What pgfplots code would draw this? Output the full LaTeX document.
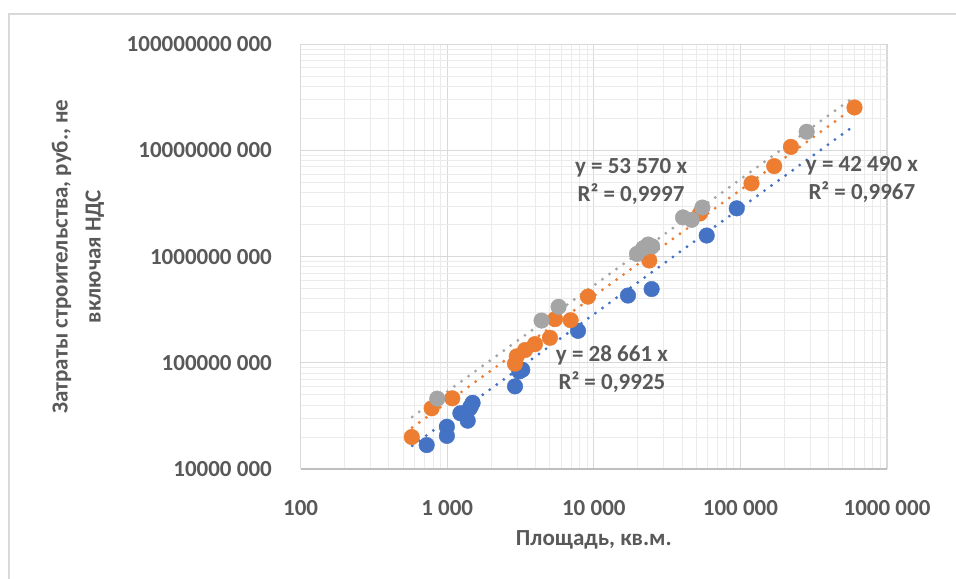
\documentclass[border=0pt]{standalone}
\usepackage{pgfplots}
\pgfplotsset{compat=1.18}
\usepackage{fontspec}
\setmainfont{Carlito}
\definecolor{cblue}{HTML}{4472C4}
\definecolor{corange}{HTML}{ED7D31}
\definecolor{cgray}{HTML}{A5A5A5}
\definecolor{ctext}{HTML}{595959}
\definecolor{gmaj}{HTML}{D9D9D9}
\definecolor{gmin}{HTML}{EBEBEB}
\begin{document}
\begin{tikzpicture}[x=1bp,y=1bp]
\useasboundingbox (0,0) rectangle (956,579);
\fill[white] (0,0) rectangle (956,579);
\draw[gmaj, line width=1.3bp] (9,-5) -- (9,565) -- (960,565);
\begin{axis}[
  at={(300.6bp,110bp)}, anchor=south west, scale only axis,
  width=586.4bp, height=424.7bp,
  xmode=log, ymode=log,
  xmin=100, xmax=1000000, ymin=1e7, ymax=1e11,
  xtick={100,1000,10000,100000,1000000},
  xticklabels={100,1 000,10 000,100 000,1000 000},
  ytick={1e7,1e8,1e9,1e10,1e11},
  yticklabels={10000 000,100000 000,1000000 000,10000000 000,100000000 000},
  minor xtick={200,300,400,500,600,700,800,900,2000,3000,4000,5000,6000,7000,8000,9000,20000,30000,40000,50000,60000,70000,80000,90000,200000,300000,400000,500000,600000,700000,800000,900000},
  minor ytick={2e7,3e7,4e7,5e7,6e7,7e7,8e7,9e7,2e8,3e8,4e8,5e8,6e8,7e8,8e8,9e8,2e9,3e9,4e9,5e9,6e9,7e9,8e9,9e9,2e10,3e10,4e10,5e10,6e10,7e10,8e10,9e10},
  grid=both,
  major grid style={draw=gmaj, line width=1.1bp},
  minor grid style={draw=gmin, line width=0.9bp},
  tick style={draw=none},
  axis line style={draw=none},
  ticklabel style={font=\fontsize{23bp}{28bp}\selectfont\bfseries, text=ctext, inner sep=0pt},
  xticklabel style={anchor=center, yshift=-39bp},
  yticklabel style={anchor=east, xshift=-28.6bp},
  xlabel={Площадь, кв.м.},
  ylabel={Затраты строительства, руб., не\\включая НДС},
  xlabel style={at={(axis description cs:0.5,-0.1672)}, anchor=center, font=\fontsize{23bp}{28bp}\selectfont\bfseries, text=ctext},
  ylabel style={at={(axis description cs:-0.3796,0.5)}, anchor=center, rotate=0, align=center, font=\fontsize{23bp}{33bp}\selectfont\bfseries, text=ctext},
  clip=false,
]
\draw[draw=gray!50, line width=1.3bp] (axis cs:100,1e7) -- (axis cs:1000000,1e7);
% blue series
\addplot[only marks, mark=*, mark size=7.8bp, mark options={fill=cblue, draw=cblue}] coordinates {
(725,1.68e7) (995,2.05e7) (995,2.5e7) (1230,3.35e7) (1300,3.3e7) (1380,2.85e7)
(1420,3.7e7) (1450,3.9e7) (1490,4.2e7) (2900,6.0e7) (3100,8.3e7) (3250,8.6e7)
(7800,2.0e8) (17100,4.3e8) (24800,4.95e8) (58900,1.58e9) (94400,2.85e9)
};
% orange series
\addplot[only marks, mark=*, mark size=7.8bp, mark options={fill=corange, draw=corange}] coordinates {
(573,2.0e7) (783,3.73e7) (1083,4.63e7) (2900,9.8e7) (2980,1.15e8) (3400,1.32e8)
(3970,1.5e8) (5020,1.72e8) (5440,2.58e8) (6950,2.52e8) (9120,4.2e8) (23900,9.2e8)
(53000,2.55e9) (119000,4.9e9) (170000,7.12e9) (221000,1.08e10) (600000,2.54e10)
};
% gray series
\addplot[only marks, mark=*, mark size=7.8bp, mark options={fill=cgray, draw=cgray}] coordinates {
(855,4.6e7) (4400,2.5e8) (5750,3.37e8) (19700,1.06e9) (21700,1.2e9) (23500,1.3e9)
(25000,1.25e9) (40600,2.34e9) (46500,2.22e9) (55000,2.9e9) (283000,1.5e10)
};
% trendlines (y = a x)
\addplot[cblue, line width=3.2bp, line cap=round, dash pattern=on 0bp off 8.7bp] coordinates {(577,1.654e7) (608000,1.743e10)};
\addplot[corange, line width=3.2bp, line cap=round, dash pattern=on 0bp off 8.7bp] coordinates {(577,2.452e7) (608000,2.583e10)};
\addplot[cgray, line width=3.2bp, line cap=round, dash pattern=on 0bp off 8.7bp] coordinates {(577,3.091e7) (608000,3.257e10)};
% labels
\node[align=center, font=\fontsize{23bp}{28bp}\selectfont\bfseries, text=ctext] at (axis cs:17950,5.15e9) {y = 53 570 x\\R² = 0,9997};
\node[align=center, font=\fontsize{23bp}{28bp}\selectfont\bfseries, text=ctext] at (axis cs:674000,5.38e9) {y = 42 490 x\\R² = 0,9967};
\node[align=center, font=\fontsize{23bp}{28bp}\selectfont\bfseries, text=ctext] at (axis cs:13300,8.75e7) {y = 28 661 x\\R² = 0,9925};
\end{axis}
\end{tikzpicture}
\end{document}
